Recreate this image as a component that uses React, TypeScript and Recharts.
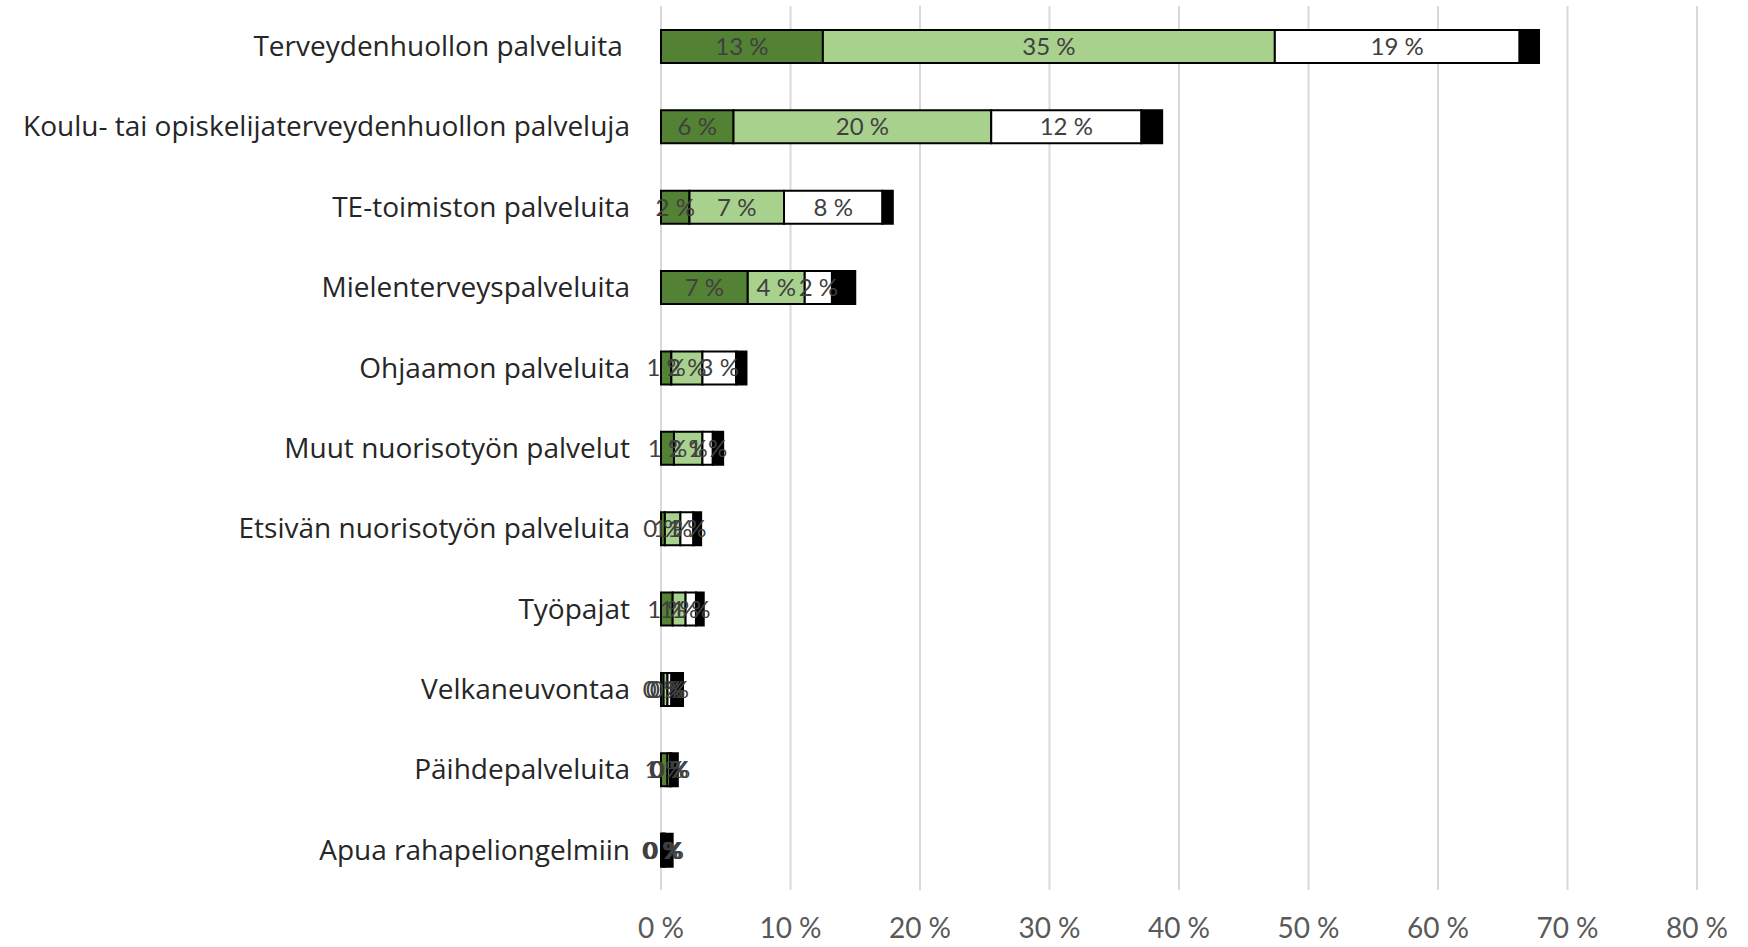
import React from "react";
import { BarChart, Bar, XAxis, YAxis, CartesianGrid, LabelList } from "recharts";

const categories = [
  "Terveydenhuollon palveluita\u00a0",
  "Koulu- tai opiskelijaterveydenhuollon palveluja",
  "TE-toimiston palveluita",
  "Mielenterveyspalveluita",
  "Ohjaamon palveluita",
  "Muut nuorisotyön palvelut",
  "Etsivän nuorisotyön palveluita",
  "Työpajat",
  "Velkaneuvontaa",
  "Päihdepalveluita",
  "Apua rahapeliongelmiin",
];

// four stacked segments per row, percent
const darkGreen = [12.5, 5.6, 2.2, 6.7, 0.8, 1.0, 0.3, 0.9, 0.2, 0.5, 0.1];
const lightGreen = [34.9, 19.9, 7.3, 4.4, 2.4, 2.2, 1.2, 1.0, 0.3, 0.2, 0.1];
const white = [18.9, 11.6, 7.6, 2.1, 2.6, 0.8, 1.0, 0.8, 0.3, 0.1, 0.1];
const black = [1.5, 1.6, 0.8, 1.8, 0.8, 0.8, 0.6, 0.6, 0.9, 0.5, 0.6];

const xTicks = [0, 10, 20, 30, 40, 50, 60, 70, 80];

const data = categories.map((name, i) => ({
  name,
  a: darkGreen[i],
  b: lightGreen[i],
  c: white[i],
  d: black[i],
}));

const pct = (v: any) => `${Math.round(Number(v))}\u00a0%`;
const FONT = "Lato, 'Open Sans', sans-serif";

const labelStyle = { fill: "#404040", fontSize: 24, fontFamily: FONT };

export default function App() {
  return (
    <div style={{ position: "absolute", left: 0, top: 0, background: "#fff" }}>
      <BarChart
        width={1748}
        height={947}
        data={data}
        layout="vertical"
        margin={{ top: 6, right: 51, bottom: 0, left: 0 }}
        barSize={33}
      >
        <CartesianGrid horizontal={false} stroke="#d9d9d9" strokeWidth={2} />
        <XAxis
          type="number"
          domain={[0, 80]}
          ticks={xTicks}
          tickFormatter={pct}
          axisLine={false}
          tickLine={false}
          tickMargin={22}
          height={57}
          tick={{ fill: "#595959", fontSize: 28, fontFamily: FONT }}
          interval={0}
        />
        <YAxis
          type="category"
          dataKey="name"
          width={661}
          axisLine={false}
          tickLine={false}
          tickSize={0}
          tickMargin={31}
          interval={0}
          tick={{ fill: "#262626", fontSize: 28, fontFamily: "'Open Sans', sans-serif" }}
        />
        <Bar dataKey="a" stackId="s" fill="#548235" stroke="#000" strokeWidth={2} isAnimationActive={false}>
          <LabelList dataKey="a" position="center" formatter={pct} style={labelStyle} />
        </Bar>
        <Bar dataKey="b" stackId="s" fill="#a9d18e" stroke="#000" strokeWidth={2} isAnimationActive={false}>
          <LabelList dataKey="b" position="center" formatter={pct} style={labelStyle} />
        </Bar>
        <Bar dataKey="c" stackId="s" fill="#ffffff" stroke="#000" strokeWidth={2} isAnimationActive={false}>
          <LabelList dataKey="c" position="center" formatter={pct} style={labelStyle} />
        </Bar>
        <Bar dataKey="d" stackId="s" fill="#000000" stroke="#000" strokeWidth={2} isAnimationActive={false} />
      </BarChart>
    </div>
  );
}
